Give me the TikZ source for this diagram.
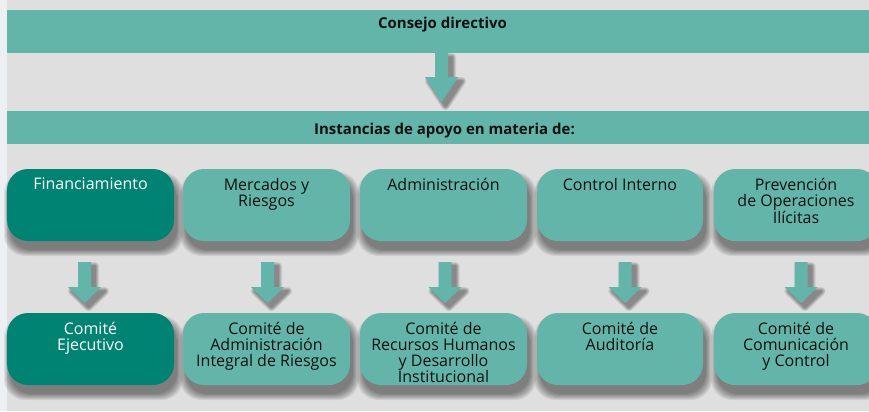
\documentclass[tikz,border=0pt]{standalone}
\usepackage{fontspec}
\setmainfont{Open Sans}
\definecolor{bgc}{HTML}{DFDFDF}
\definecolor{stripc}{HTML}{ECF0F3}
\definecolor{lteal}{HTML}{64B5A9}
\definecolor{dteal}{HTML}{008373}
\definecolor{ink}{HTML}{111111}
\tikzset{
  band/.style={fill=lteal, draw=none, inner sep=0pt, minimum width=862bp},
  headtxt/.style={font=\bfseries\fontsize{15bp}{16bp}\selectfont, text=ink, inner sep=0pt, anchor=base},
  lbox/.style={fill=lteal, draw=none, rounded corners=21bp, inner sep=0pt, minimum height=72bp},
  dbox/.style={fill=dteal, draw=none, rounded corners=21bp, inner sep=0pt, minimum height=72bp},
  ltxt/.style={text=ink},
  dtxt/.style={text=white},
  boxtxt/.style={font=\fontsize{16bp}{16bp}\selectfont, align=center, inner sep=0pt, anchor=north},
  arrowfill/.style={fill=lteal, draw=none},
}
% box: name, center x, center y, width, style, text style, text
\newcommand\mybox[7]{%
  \foreach \k in {0,...,6}{%
    \fill[black, opacity=.075, rounded corners=21bp]
      ({#2-#4/2+3-\k},{#3-36+9-\k}) rectangle ({#2+#4/2+3+\k},{#3+36+9+\k});}
  \node[#5, minimum width=#4bp] (#1) at (#2,#3) {};
  \node[boxtxt, #6] (#1t) at (#2,{#3-36+9}) {#7};
}
% arrow path in local coords: dx, ytop, yheadbase, ytip
\newcommand\arrowpath[4]{({#1-6.5},#2) -- ({#1+6.5},#2) -- ({#1+6.5},#3) -- ({#1+16.5},#3) -- (#1,#4) -- ({#1-16.5},#3) -- ({#1-6.5},#3) -- cycle}
\newcommand\fatarrow[5]{% anchor, dx, ytop, yhb, ytip
  \begin{scope}[shift={(#1)}]
    \foreach \k in {1,...,5}{%
      \begin{scope}[transparency group, opacity=.09]
        \filldraw[black, line width={\k*1.6bp}, line join=round, xshift=4bp, yshift=-4bp] \arrowpath{#2}{#3}{#4}{#5};
      \end{scope}}
    \fill[arrowfill] \arrowpath{#2}{#3}{#4}{#5};
  \end{scope}}
\begin{document}
\begin{tikzpicture}[x=1bp,y=-1bp]
  \useasboundingbox (0,0) rectangle (869,411);
  \clip (0,0) rectangle (869,411);
  \fill[stripc] (0,0) rectangle (869,411);
  \fill[bgc] (7,0) rectangle (869,411);
  % bands
  \node[band, minimum height=43bp] (cd) at (438,31.5) {};
  \node[headtxt] (cdt) at (442.5,28) {Consejo directivo};
  \node[band, minimum height=33bp] (ia) at (438,127.5) {};
  \node[headtxt] (iat) at (444.5,134) {Instancias de apoyo en materia de:};
  % big arrow
  \fatarrow{cd.south}{3.5}{0}{24}{49}
  % boxes row 1
  \mybox{b1}{90.5}{205}{167}{dbox}{dtxt}{Financiamiento}
  \mybox{b2}{266.5}{205}{167}{lbox}{ltxt}{Mercados y\\Riesgos}
  \mybox{b3}{443.5}{205}{167}{lbox}{ltxt}{Administración}
  \mybox{b4}{620}{205}{166}{lbox}{ltxt}{Control Interno}
  \mybox{b5}{796}{205}{164}{lbox}{ltxt}{Prevención\\de Operaciones\\Ilícitas}
  % boxes row 2
  \mybox{c1}{90.5}{349}{167}{dbox}{dtxt}{Comité\\Ejecutivo}
  \mybox{c2}{266.5}{349}{167}{lbox}{ltxt}{Comité de\\Administración\\Integral de Riesgos}
  \mybox{c3}{443.5}{349}{167}{lbox}{ltxt}{Comité de\\Recursos Humanos\\y Desarrollo\\Institucional}
  \mybox{c4}{620}{349}{166}{lbox}{ltxt}{Comité de\\Auditoría}
  \mybox{c5}{796}{349}{164}{lbox}{ltxt}{Comité de\\Comunicación\\y Control}
  % small arrows (from row 1 box to row 2 box)
  \fatarrow{b1.south}{-6}{21}{46}{62}
  \fatarrow{b2.south}{1}{21}{46}{62}
  \fatarrow{b3.south}{1.5}{21}{46}{62}
  \fatarrow{b4.south}{5}{21}{46}{62}
  \fatarrow{b5.south}{5}{21}{46}{62}
\end{tikzpicture}
\end{document}
